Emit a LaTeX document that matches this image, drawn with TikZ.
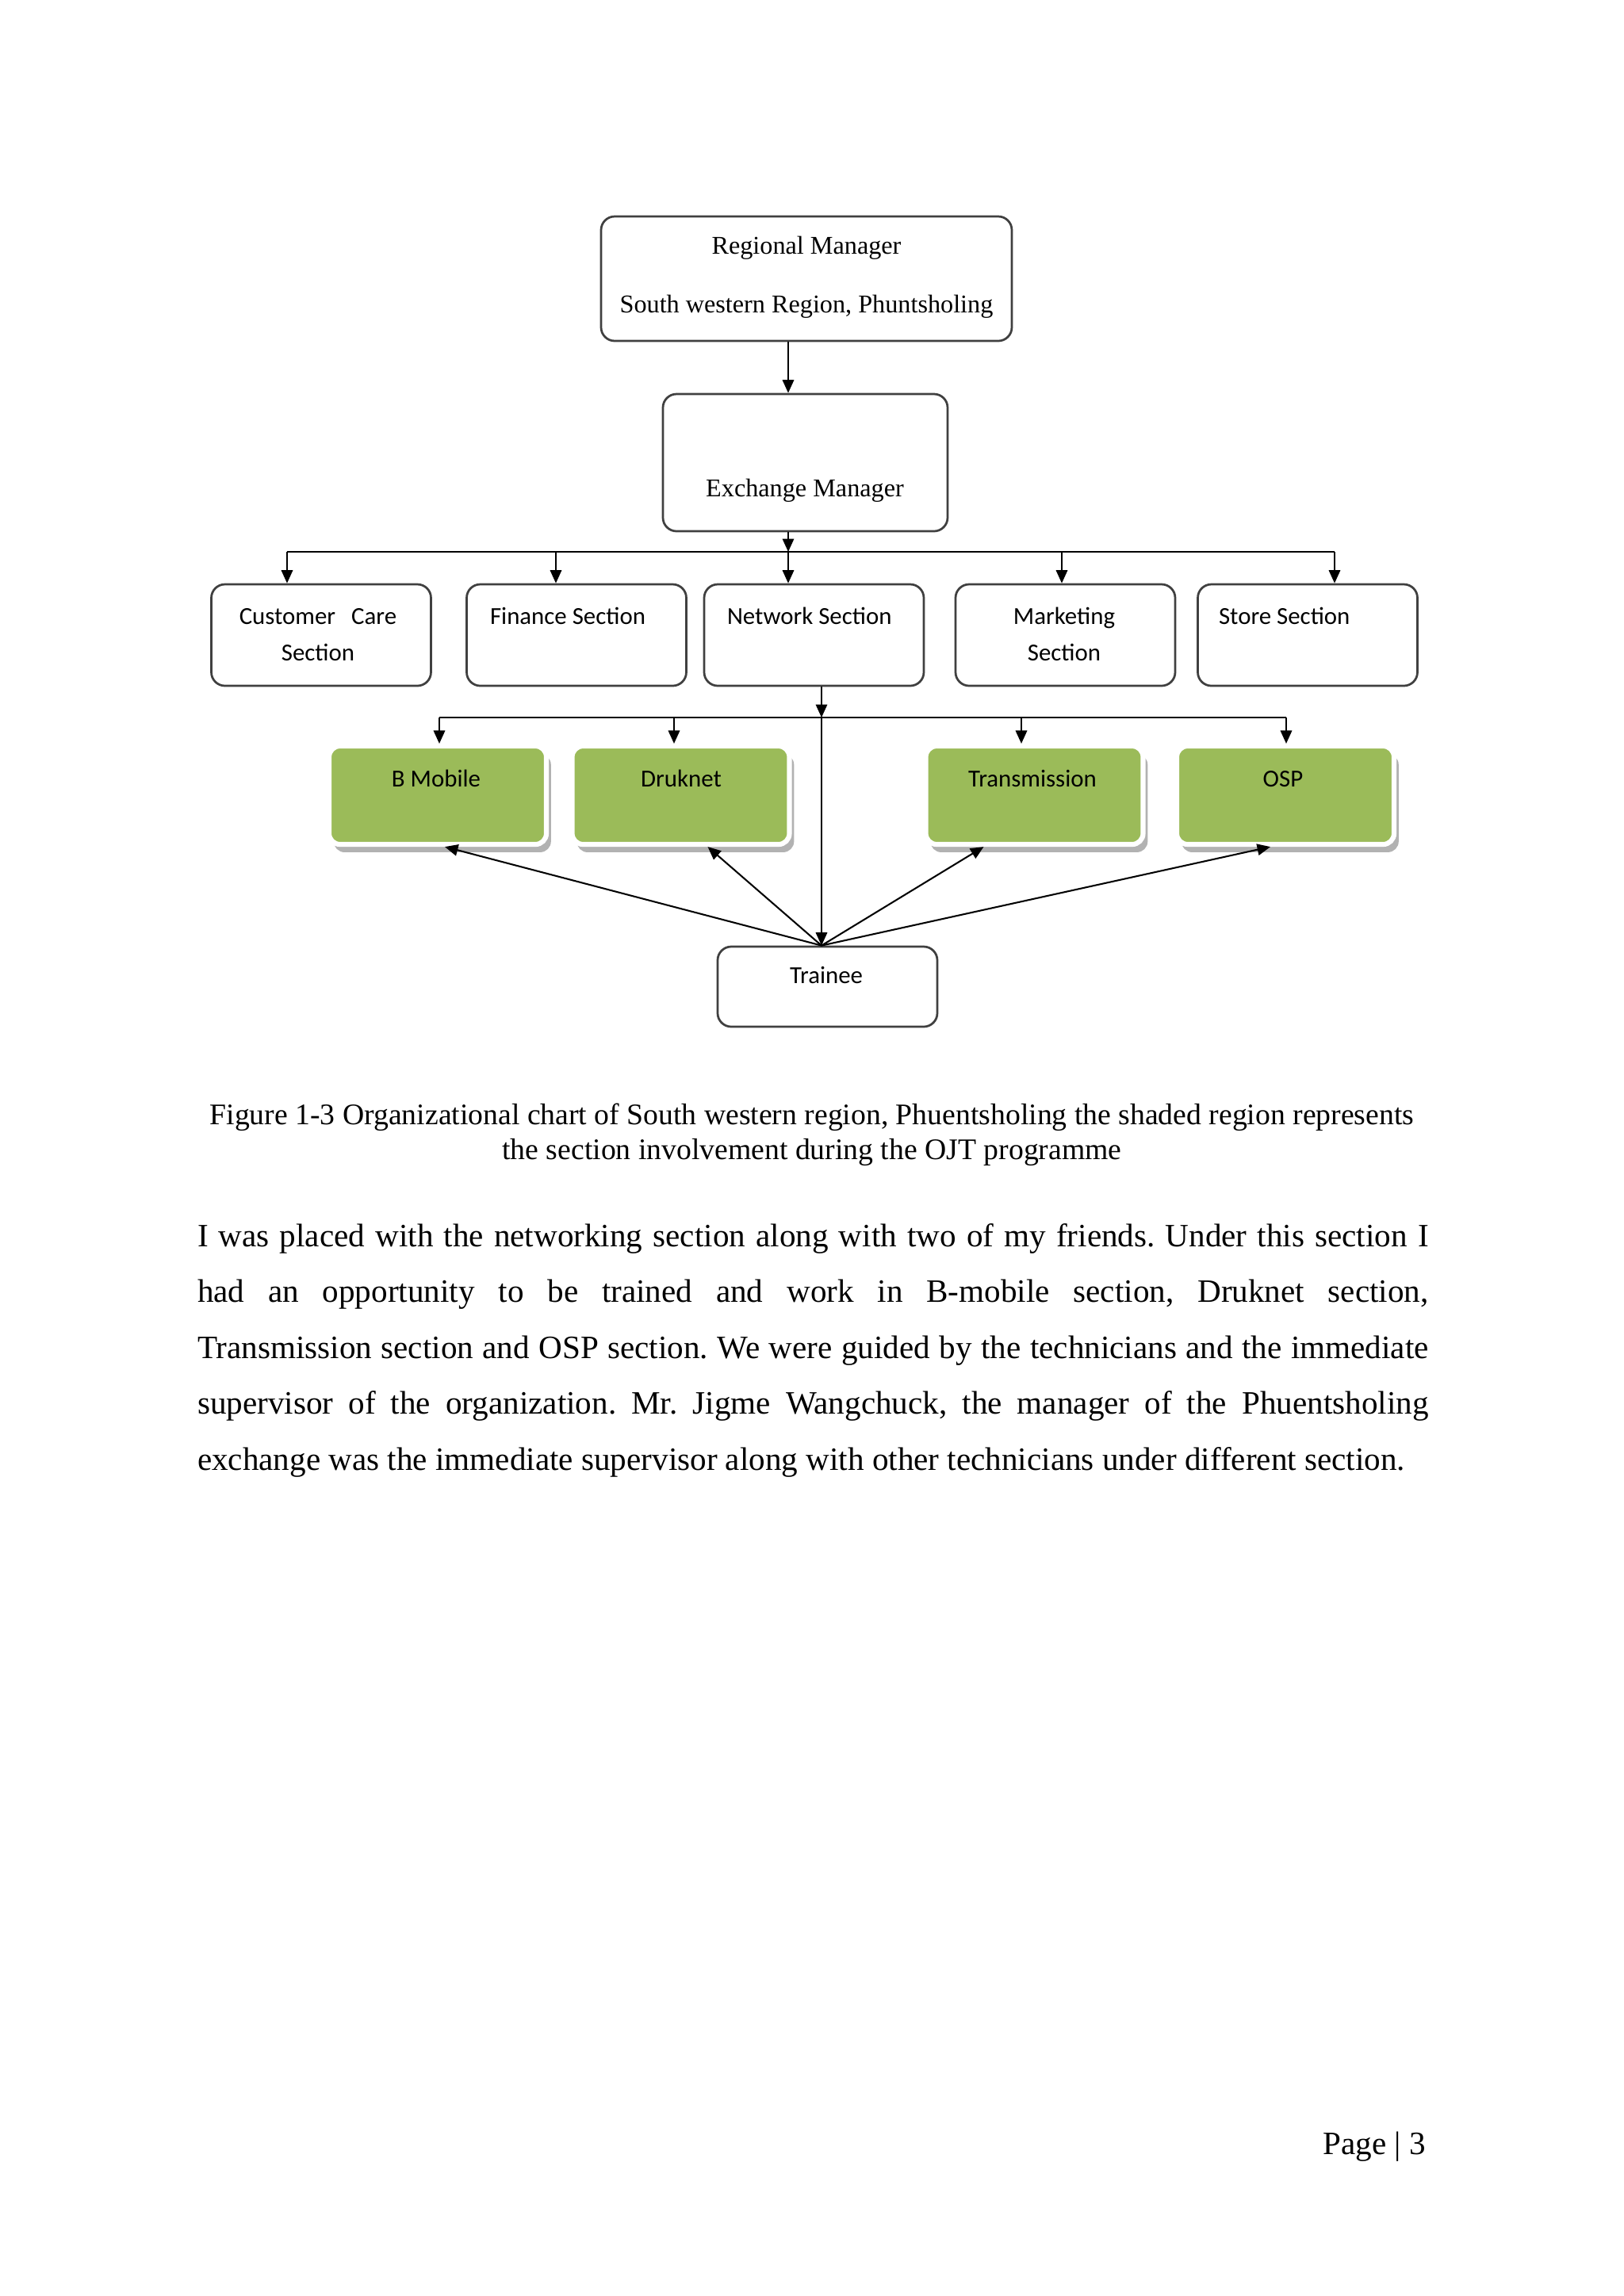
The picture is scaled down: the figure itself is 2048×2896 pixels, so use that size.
\documentclass[tikz,border=0pt]{standalone}
\usepackage{fontspec}
\setmainfont{Liberation Serif}
\newfontfamily\calibri{Carlito}
\usetikzlibrary{arrows.meta, calc, shadows}
\newlength\pxl
\setlength\pxl{0.0102539cm}
\definecolor{secgreen}{RGB}{155,187,89}
\frenchspacing
\tikzset{
    whitebox/.style = {draw=black!75, line width=0.8pt, rounded corners=5pt, inner sep=0pt,
        minimum width=277*\pxl, minimum height=128*\pxl},
    greenbox/.style = {fill=secgreen, draw=white, line width=1.8pt, rounded corners=4pt, inner sep=0pt,
        minimum width=274*\pxl, minimum height=124*\pxl,
        drop shadow={shadow xshift=1.7pt, shadow yshift=-2.9pt, fill=black!30, opacity=1}},
    sanslabel/.style = {font=\calibri\fontsize{9}{11}\selectfont, anchor=base, inner sep=0pt},
    seriflabel/.style = {font=\fontsize{9.4}{11}\selectfont, anchor=base, inner sep=0pt},
}
\begin{document}
\begin{tikzpicture}[x=0.0102539cm, y=-0.0102539cm, line width=0.6pt, >={Triangle[length=4.8pt,width=4.2pt]}]
\useasboundingbox (0,0) rectangle (2048,2896);

% managers
\node[whitebox, minimum width=518*\pxl, minimum height=157*\pxl] (reg) at (1017,351.5) {};
\node[seriflabel] at (1017,320) {Regional Manager};
\node[seriflabel] at (1017,394) {South western Region, Phuntsholing};

\node[whitebox, minimum width=359*\pxl, minimum height=173*\pxl] (exch) at (1015.5,583.5) {};
\node[seriflabel] at (1015,626) {Exchange Manager};

\coordinate (bus1) at (994,696);
\draw[->] (reg.south -| bus1) -- (exch.north -| bus1);
\draw[->] (exch.south -| bus1) -- (bus1);
\draw (362,696) -- (1683,696);

% sections
\node[whitebox] (cust) at (405,801) {};
\node[whitebox] (fin) at (727,801) {};
\node[whitebox] (net) at (1026.5,801) {};
\node[whitebox] (mkt) at (1343.5,801) {};
\node[whitebox] (store) at (1649,801) {};
\foreach \name/\x in {cust/362, fin/701, net/994, mkt/1339, store/1683}
    \draw[->] (\x,696) -- (\x,0 |- \name.north);

\node[sanslabel] at (401,787) {Customer\hspace{0.65em}Care};
\node[sanslabel] at (401,833) {Section};
\node[sanslabel, anchor=base west] at (617,787) {Finance Section};
\node[sanslabel, anchor=base west] at (916,787) {Network Section};
\node[sanslabel] at (1342,787) {Marketing};
\node[sanslabel] at (1342,833) {Section};
\node[sanslabel, anchor=base west] at (1536,787) {Store Section};

% network units
\coordinate (bus2) at (1036,905);
\draw[->] (net.south -| bus2) -- (bus2);
\draw (554,905) -- (1622,905);

\node[greenbox] (bmob) at (552,1003) {};
\node[greenbox] (druk) at (858.5,1003) {};
\node[greenbox] (trans) at (1304.5,1003) {};
\node[greenbox] (osp) at (1621,1003) {};
\foreach \name/\x in {bmob/554, druk/850, trans/1288, osp/1622}
    \draw[->] (\x,905) -- (\x,0 |- \name.north);

\node[sanslabel] at (550,992) {B Mobile};
\node[sanslabel] at (859,992) {Druknet};
\node[sanslabel] at (1302,992) {Transmission};
\node[sanslabel] at (1618,992) {OSP};

% trainee
\node[whitebox, minimum height=101*\pxl] (trainee) at (1043.5,1244.5) {};
\node[sanslabel] at (1042,1240) {Trainee};
\draw[->] (bus2) -- (trainee.north -| bus2);
\draw[->] (trainee.north -| bus2) -- ($(bmob.south)+(9,0)$);
\draw[->] (trainee.north -| bus2) -- ($(druk.south)+(34,0)$);
\draw[->] (trainee.north -| bus2) -- ($(trans.south)+(-64,0)$);
\draw[->] (trainee.north -| bus2) -- ($(osp.south)+(-19,0)$);

% caption and text
\node[font=\fontsize{11}{12.65}\selectfont, align=center, anchor=base, inner sep=0pt] (caption) at (1024,1462)
    {Figure 1-3 Organizational chart of South western region, Phuentsholing the shaded region represents\\
     the section involvement during the OJT programme};

\node[font=\fontsize{12}{20.6}\selectfont, text width=15.92cm, align=justify, anchor=base west, inner sep=0pt] (body) at (248,1572)
    {I was placed with the networking section along with two of my friends. Under this section I\linebreak
     had an opportunity to be trained and work in B-mobile section, Druknet section,\linebreak
     Transmission section and OSP section. We were guided by the technicians and the immediate\linebreak
     supervisor of the organization. Mr. Jigme Wangchuck, the manager of the Phuentsholing\linebreak
     exchange was the immediate supervisor along with other technicians under different section.};

\node[font=\fontsize{12}{14}\selectfont, anchor=base east, inner sep=0pt] (pagenum) at (1799,2717) {Page | 3};
\end{tikzpicture}
\end{document}
